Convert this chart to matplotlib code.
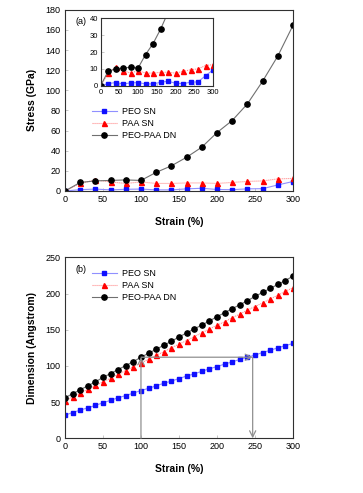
import matplotlib
matplotlib.use("Agg")
import matplotlib.pyplot as plt

plt.rcParams["font.family"] = ["Liberation Sans", "DejaVu Sans"]
plt.rcParams["font.size"] = 6.5

# (a) stress vs strain
strain_a = [0, 20, 40, 60, 80, 100, 120, 140, 160, 180, 200, 220, 240, 260, 280, 300]
peo_stress = [0, 1.3, 1.9, 1.1, 1.7, 1.9, 1.1, 1.1, 2.1, 2.7, 1.5, 1.3, 2.1, 2.3, 6.0, 9.4]
paa_stress = [0, 7.5, 11.0, 9.0, 7.5, 9.0, 7.5, 7.5, 8.0, 8.0, 7.5, 8.5, 9.5, 10.0, 12.0, 12.5]
dn_stress = [0, 8.5, 10.0, 10.5, 11.0, 10.5, 18.5, 25.0, 33.5, 43.5, 58.0, 70.0, 86.5, 109.0, 134.0, 164.5]

# (b) dimension vs strain
strain_b = list(range(0, 301, 10))
peo_dim = [32, 35.5, 39, 42, 45.5, 49, 52.5, 56, 59, 62.5, 66, 69, 72.5, 76, 79, 82.5,
           86, 89, 92.5, 96, 99, 102.5, 105.5, 109, 112, 115, 118.5, 121.5, 125, 128, 131]
paa_dim = [52, 57, 62.5, 67.5, 73, 78, 83, 88.5, 93.5, 99, 104, 109, 114.5, 119.5, 125, 130,
           135, 140.5, 145.5, 151, 156, 161, 166.5, 171.5, 177, 182, 187, 192.5, 197.5, 203, 208]
dn_dim = [56, 61.5, 67, 72.5, 78, 84, 89.5, 95, 100.5, 106, 112, 117.5, 123, 128.5, 134, 140,
          145.5, 151, 156.5, 162, 168, 173.5, 179, 184.5, 190, 196, 201.5, 207, 212.5, 218, 224]

labels = ["PEO SN", "PAA SN", "PEO-PAA DN"]
styles = [
    dict(color="#9090ff", marker="s", mfc="#1010ff", mec="#1010ff", ms=3.2, lw=0.8, ls="-"),
    dict(color="#ff9090", marker="^", mfc="#ff0000", mec="#ff0000", ms=3.6, lw=0.8, ls=(0, (1, 0.8))),
    dict(color="#707070", marker="o", mfc="black", mec="black", ms=3.8, lw=0.8, ls="-"),
]


def style_axes(ax, size=6.5):
    ax.tick_params(direction="in", length=2.5, width=0.5, color="#b0b0b0", labelsize=size, pad=3)
    for s in ax.spines.values():
        s.set_linewidth(0.8)
        s.set_color("#303030")


def main():
    fig = plt.figure(figsize=(3.63, 4.93), dpi=100)

    ax1 = fig.add_axes([0.179, 0.6126, 0.628, 0.3674])
    for y, lab, st in zip([peo_stress, paa_stress, dn_stress], labels, styles):
        ax1.plot(strain_a, y, label=lab, **st)
    ax1.set_xlim(0, 300)
    ax1.set_ylim(0, 180)
    ax1.set_xticks(range(0, 301, 50))
    ax1.set_yticks(range(0, 181, 20))
    ax1.set_xlabel("Strain (%)", fontweight="bold", fontsize=7.5, labelpad=9)
    ax1.set_ylabel("Stress (GPa)", fontweight="bold", fontsize=7.5, labelpad=6)
    style_axes(ax1)
    ax1.text(0.045, 0.935, "(a)", transform=ax1.transAxes, fontsize=6.5, va="center")
    ax1.legend(loc="upper left", bbox_to_anchor=(0.09, 0.5), frameon=False,
               handlelength=2.8, handletextpad=0.5, labelspacing=0.35, borderpad=0.2)

    ins = fig.add_axes([0.277, 0.826, 0.31, 0.137])
    for y, st in zip([peo_stress, paa_stress, dn_stress], styles):
        ins.plot(strain_a, y, **st)
    ins.set_xlim(0, 300)
    ins.set_ylim(0, 40)
    ins.set_xticks(range(0, 301, 50))
    ins.set_yticks(range(0, 41, 10))
    style_axes(ins, size=5.5)
    ins.tick_params(length=2, pad=2)

    ax2 = fig.add_axes([0.179, 0.111, 0.628, 0.367])
    for y, lab, st in zip([peo_dim, paa_dim, dn_dim], labels, styles):
        ax2.plot(strain_b, y, label=lab, **st)
    ax2.set_xlim(0, 300)
    ax2.set_ylim(0, 250)
    ax2.set_xticks(range(0, 301, 50))
    ax2.set_yticks(range(0, 251, 50))
    ax2.set_xlabel("Strain (%)", fontweight="bold", fontsize=7.5, labelpad=9)
    ax2.set_ylabel("Dimension (Angstrom)", fontweight="bold", fontsize=7.5, labelpad=6)
    style_axes(ax2)
    ax2.text(0.045, 0.935, "(b)", transform=ax2.transAxes, fontsize=6.5, va="center")
    ax2.legend(loc="upper left", bbox_to_anchor=(0.09, 0.97), frameon=False,
               handlelength=2.8, handletextpad=0.5, labelspacing=0.35, borderpad=0.2)

    arrow = dict(arrowstyle="->", color="#909090", lw=0.9, shrinkA=0, shrinkB=0,
                 mutation_scale=11)
    ax2.annotate("", xy=(100, 112), xytext=(100, 0), arrowprops=arrow)
    ax2.annotate("", xy=(247, 112), xytext=(100, 112), arrowprops=arrow)
    ax2.annotate("", xy=(247, 0), xytext=(247, 112), arrowprops=arrow)

    fig.savefig("out.png", dpi=100)


if __name__ == "__main__":
    main()
